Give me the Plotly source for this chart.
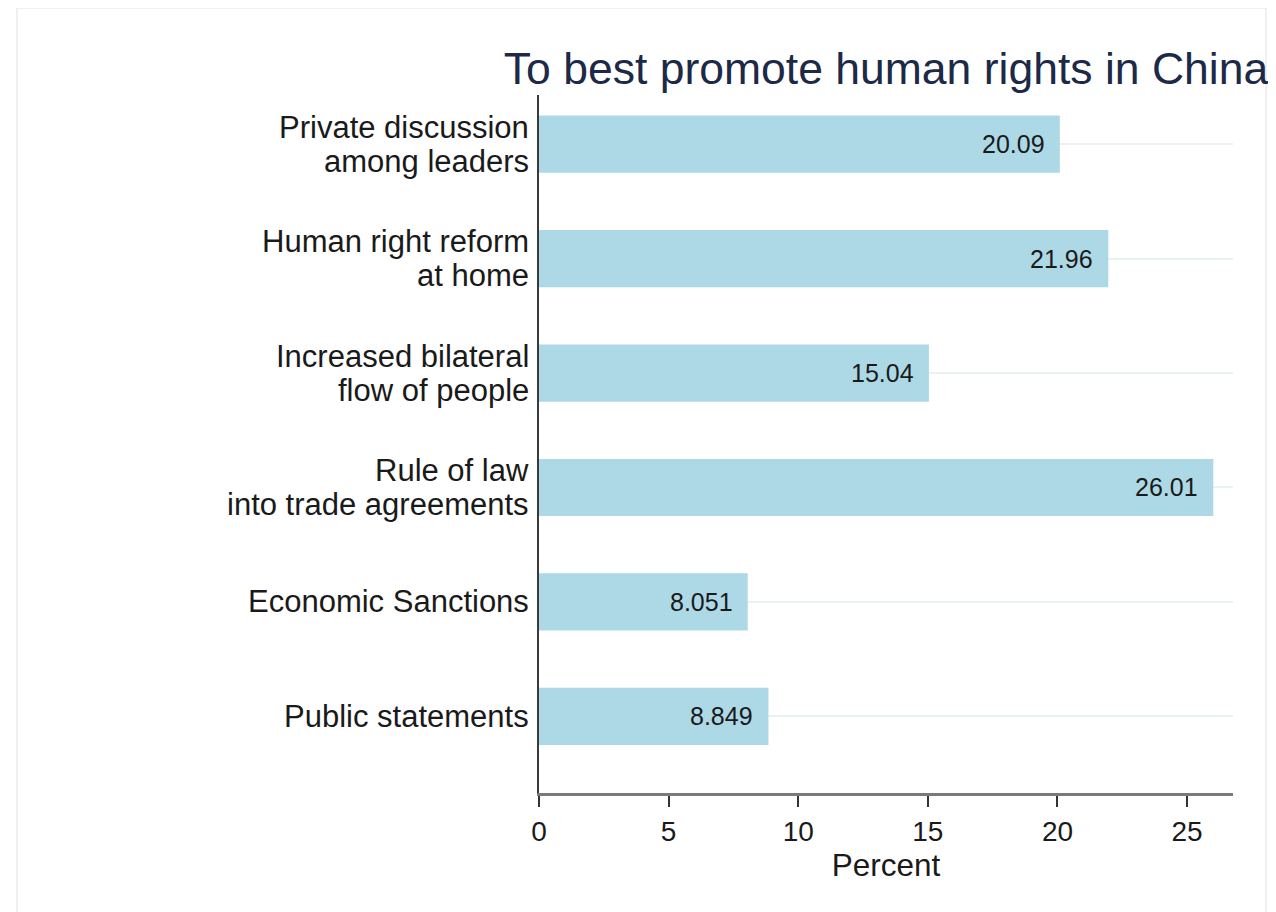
import plotly.graph_objects as go

categories = [
    "Private discussion<br>among leaders",
    "Human right reform<br>at home",
    "Increased bilateral<br>flow of people",
    "Rule of law<br>into trade agreements",
    "Economic Sanctions",
    "Public statements",
]
values = [20.09, 21.96, 15.04, 26.01, 8.051, 8.849]
value_labels = ["20.09", "21.96", "15.04", "26.01", "8.051", "8.849"]
tick_vals = [0, 5, 10, 15, 20, 25]

# page has an 8px body margin, so the figure is drawn at (8, 8)
W, H = 1268, 904
ml, mr, mt, mb = 531, 43, 87, 119
pw, ph = W - ml - mr, H - mt - mb

FONT = "Liberation Sans, Arial, sans-serif"

fig = go.Figure()
fig.add_trace(go.Bar(
    x=values, y=categories, orientation="h",
    marker=dict(color="#add8e6", line=dict(width=0)),
    width=0.5, hoverinfo="skip",
))

for v, c, t in zip(values, categories, value_labels):
    fig.add_annotation(x=v, y=c, xref="x", yref="y", text=t, showarrow=False,
                       xanchor="right", yanchor="middle", xshift=-13,
                       font=dict(family=FONT, size=25, color="#1a1a1a"))

# category labels, one annotation per line for tight line spacing
LINE = 34
for c in categories:
    lines = c.split("<br>")
    n = len(lines)
    for i, ln in enumerate(lines):
        fig.add_annotation(x=0, y=c, xref="paper", yref="y", text=ln,
                           showarrow=False, xanchor="right", yanchor="middle",
                           xshift=-8, yshift=((n - 1) / 2 - i) * LINE,
                           font=dict(family=FONT, size=31, color="#1a1a1a"))

# faint frame around the figure
fig.add_shape(type="rect", xref="paper", yref="paper",
              x0=(9 - ml) / pw, x1=(1258 - ml) / pw,
              y0=(H - mb - 910) / ph, y1=(H - mb - 0) / ph,
              line=dict(color="#ececec", width=1.5), fillcolor="rgba(0,0,0,0)",
              layer="below")

fig.update_layout(
    width=W, height=H,
    margin=dict(l=ml, r=mr, t=mt, b=mb, pad=0),
    paper_bgcolor="white", plot_bgcolor="white",
    showlegend=False,
    title=dict(text="To best promote human rights in China",
               x=0.5, xref="paper", xanchor="center",
               y=1 - 60 / H, yref="container", yanchor="middle",
               font=dict(family=FONT, size=44.5, color="#1c2a48")),
    xaxis=dict(range=[0, 26.77], tickvals=tick_vals, showgrid=False,
               zeroline=False, showline=True, linecolor="#7a7a7a", linewidth=3,
               ticks="outside", ticklen=11, tickwidth=2, tickcolor="#333333",
               tickfont=dict(family=FONT, size=28, color="#1a1a1a"),
               title=dict(text="Percent", standoff=2,
                          font=dict(family=FONT, size=31.5, color="#1a1a1a"))),
    yaxis=dict(categoryorder="array", categoryarray=categories,
               range=[5.67, -0.43], showgrid=True, gridcolor="#e8f1f3",
               gridwidth=2, zeroline=False, showline=True, linecolor="#3a3a3a",
               linewidth=2, ticks="", showticklabels=False),
)

fig.write_html("out.html")
